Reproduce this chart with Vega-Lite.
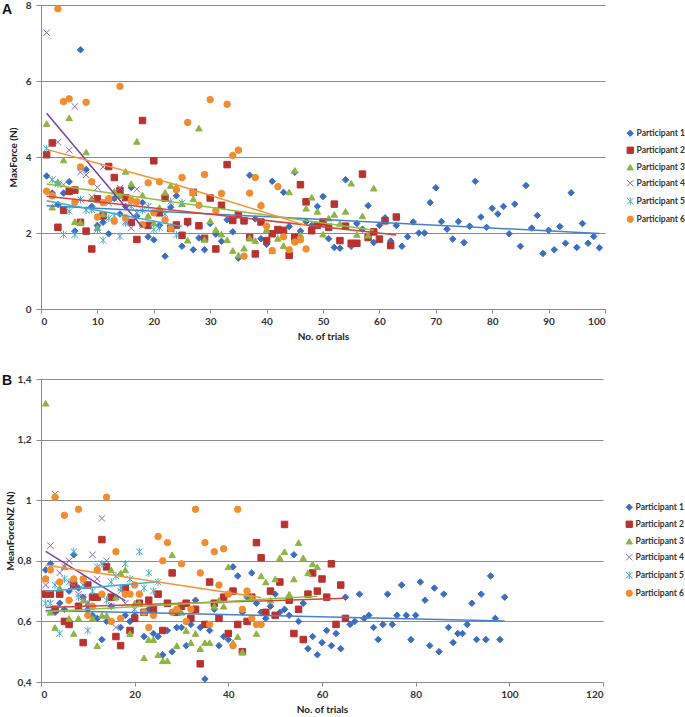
{
"$schema":"https://vega.github.io/schema/vega-lite/v6.json",
"padding":{"left":2,"top":0,"right":0,"bottom":0},
"columns":1,
"align":"none",
"spacing":33,
"datasets":{
"a":[
{"p":1,"t":1,"v":3.5},{"p":1,"t":2,"v":3.05},{"p":1,"t":3,"v":2.75},{"p":1,"t":4,"v":3.05},{"p":1,"t":5,"v":3.35},{"p":1,"t":6,"v":2.05},{"p":1,"t":7,"v":6.82},{"p":1,"t":8,"v":3.67},{"p":1,"t":9,"v":2.7},{"p":1,"t":10,"v":2.2},
{"p":1,"t":11,"v":2.28},{"p":1,"t":12,"v":1.98},{"p":1,"t":13,"v":2.91},{"p":1,"t":14,"v":2.5},{"p":1,"t":15,"v":2.7},{"p":1,"t":16,"v":3.2},{"p":1,"t":17,"v":2.45},{"p":1,"t":18,"v":2.8},{"p":1,"t":19,"v":1.9},{"p":1,"t":20,"v":1.82},
{"p":1,"t":21,"v":2.2},{"p":1,"t":22,"v":1.39},{"p":1,"t":23,"v":2.68},{"p":1,"t":24,"v":2.98},{"p":1,"t":25,"v":1.65},{"p":1,"t":26,"v":2.25},{"p":1,"t":27,"v":1.56},{"p":1,"t":28,"v":1.87},{"p":1,"t":29,"v":1.56},{"p":1,"t":30,"v":2.25},
{"p":1,"t":31,"v":1.97},{"p":1,"t":32,"v":1.78},{"p":1,"t":33,"v":2.35},{"p":1,"t":34,"v":2.03},{"p":1,"t":35,"v":1.34},{"p":1,"t":36,"v":2.32},{"p":1,"t":37,"v":3.52},{"p":1,"t":38,"v":2.37},{"p":1,"t":39,"v":1.85},{"p":1,"t":40,"v":1.7},
{"p":1,"t":41,"v":3.36},{"p":1,"t":42,"v":2.05},{"p":1,"t":43,"v":3.07},{"p":1,"t":44,"v":2.17},{"p":1,"t":45,"v":3.6},{"p":1,"t":46,"v":2.05},{"p":1,"t":47,"v":2.3},{"p":1,"t":48,"v":2.2},{"p":1,"t":49,"v":2.7},{"p":1,"t":50,"v":2.96},
{"p":1,"t":51,"v":1.85},{"p":1,"t":52,"v":1.62},{"p":1,"t":53,"v":1.6},{"p":1,"t":54,"v":3.4},{"p":1,"t":55,"v":1.65},{"p":1,"t":56,"v":2.25},{"p":1,"t":57,"v":2.1},{"p":1,"t":58,"v":2.72},{"p":1,"t":59,"v":1.75},{"p":1,"t":60,"v":2.2},
{"p":1,"t":61,"v":2.4},{"p":1,"t":62,"v":1.79},{"p":1,"t":63,"v":2.2},{"p":1,"t":64,"v":1.65},{"p":1,"t":65,"v":1.9},{"p":1,"t":66,"v":2.29},{"p":1,"t":67,"v":2.0},{"p":1,"t":68,"v":2.0},{"p":1,"t":69,"v":2.8},{"p":1,"t":70,"v":3.19},
{"p":1,"t":71,"v":2.3},{"p":1,"t":72,"v":2.1},{"p":1,"t":73,"v":1.84},{"p":1,"t":74,"v":2.3},{"p":1,"t":75,"v":1.75},{"p":1,"t":76,"v":2.18},{"p":1,"t":77,"v":3.36},{"p":1,"t":78,"v":2.42},{"p":1,"t":79,"v":2.15},{"p":1,"t":80,"v":2.65},
{"p":1,"t":81,"v":2.5},{"p":1,"t":82,"v":2.7},{"p":1,"t":83,"v":1.98},{"p":1,"t":84,"v":2.76},{"p":1,"t":85,"v":1.65},{"p":1,"t":86,"v":3.25},{"p":1,"t":87,"v":2.13},{"p":1,"t":88,"v":2.46},{"p":1,"t":89,"v":1.46},{"p":1,"t":90,"v":2.07},
{"p":1,"t":91,"v":1.56},{"p":1,"t":92,"v":2.17},{"p":1,"t":93,"v":1.73},{"p":1,"t":94,"v":3.06},{"p":1,"t":95,"v":1.62},{"p":1,"t":96,"v":2.25},{"p":1,"t":97,"v":1.73},{"p":1,"t":98,"v":1.91},{"p":1,"t":99,"v":1.61},
{"p":2,"t":1,"v":4.06},{"p":2,"t":2,"v":4.37},{"p":2,"t":3,"v":2.15},{"p":2,"t":4,"v":2.6},{"p":2,"t":5,"v":3.1},{"p":2,"t":6,"v":3.13},{"p":2,"t":7,"v":2.28},{"p":2,"t":8,"v":2.05},{"p":2,"t":9,"v":1.58},{"p":2,"t":10,"v":2.9},
{"p":2,"t":11,"v":2.45},{"p":2,"t":12,"v":3.75},{"p":2,"t":13,"v":3.46},{"p":2,"t":14,"v":3.12},{"p":2,"t":15,"v":2.93},{"p":2,"t":16,"v":2.28},{"p":2,"t":17,"v":1.83},{"p":2,"t":18,"v":4.96},{"p":2,"t":19,"v":2.2},{"p":2,"t":20,"v":3.9},
{"p":2,"t":21,"v":2.53},{"p":2,"t":22,"v":2.92},{"p":2,"t":23,"v":2.12},{"p":2,"t":24,"v":2.21},{"p":2,"t":25,"v":1.94},{"p":2,"t":26,"v":2.3},{"p":2,"t":27,"v":3.07},{"p":2,"t":28,"v":2.19},{"p":2,"t":29,"v":1.86},{"p":2,"t":30,"v":2.92},
{"p":2,"t":31,"v":1.58},{"p":2,"t":32,"v":2.73},{"p":2,"t":33,"v":3.8},{"p":2,"t":34,"v":2.33},{"p":2,"t":35,"v":2.48},{"p":2,"t":36,"v":2.32},{"p":2,"t":37,"v":1.88},{"p":2,"t":38,"v":1.45},{"p":2,"t":39,"v":2.29},{"p":2,"t":40,"v":1.8},
{"p":2,"t":41,"v":1.98},{"p":2,"t":42,"v":2.09},{"p":2,"t":43,"v":2.07},{"p":2,"t":44,"v":1.41},{"p":2,"t":45,"v":1.89},{"p":2,"t":46,"v":3.27},{"p":2,"t":47,"v":2.82},{"p":2,"t":48,"v":2.06},{"p":2,"t":49,"v":2.2},{"p":2,"t":50,"v":2.29},
{"p":2,"t":51,"v":2.15},{"p":2,"t":52,"v":2.76},{"p":2,"t":53,"v":1.8},{"p":2,"t":54,"v":2.18},{"p":2,"t":55,"v":1.73},{"p":2,"t":56,"v":1.73},{"p":2,"t":57,"v":3.55},{"p":2,"t":58,"v":1.88},{"p":2,"t":59,"v":2.03},{"p":2,"t":60,"v":1.84},
{"p":2,"t":61,"v":2.32},{"p":2,"t":62,"v":1.67},{"p":2,"t":63,"v":2.42},
{"p":3,"t":1,"v":4.88},{"p":3,"t":2,"v":2.68},{"p":3,"t":3,"v":3.35},{"p":3,"t":4,"v":3.92},{"p":3,"t":5,"v":5.03},{"p":3,"t":6,"v":2.3},{"p":3,"t":7,"v":2.28},{"p":3,"t":8,"v":4.13},{"p":3,"t":9,"v":2.9},{"p":3,"t":10,"v":2.14},
{"p":3,"t":11,"v":2.5},{"p":3,"t":12,"v":2.93},{"p":3,"t":13,"v":3.1},{"p":3,"t":14,"v":2.98},{"p":3,"t":15,"v":3.62},{"p":3,"t":16,"v":3.3},{"p":3,"t":17,"v":4.41},{"p":3,"t":18,"v":3.0},{"p":3,"t":19,"v":2.46},{"p":3,"t":20,"v":2.26},
{"p":3,"t":21,"v":2.67},{"p":3,"t":22,"v":3.07},{"p":3,"t":23,"v":3.25},{"p":3,"t":24,"v":3.23},{"p":3,"t":25,"v":2.77},{"p":3,"t":26,"v":1.81},{"p":3,"t":27,"v":2.9},{"p":3,"t":28,"v":4.76},{"p":3,"t":29,"v":1.83},{"p":3,"t":30,"v":2.32},
{"p":3,"t":31,"v":2.09},{"p":3,"t":32,"v":1.97},{"p":3,"t":33,"v":1.82},{"p":3,"t":34,"v":1.54},{"p":3,"t":35,"v":1.42},{"p":3,"t":36,"v":1.6},{"p":3,"t":37,"v":1.87},{"p":3,"t":38,"v":1.8},{"p":3,"t":39,"v":2.75},{"p":3,"t":40,"v":2.09},
{"p":3,"t":41,"v":1.53},{"p":3,"t":42,"v":1.86},{"p":3,"t":43,"v":1.67},{"p":3,"t":44,"v":3.08},{"p":3,"t":45,"v":3.65},{"p":3,"t":46,"v":1.95},{"p":3,"t":47,"v":2.65},{"p":3,"t":48,"v":2.94},{"p":3,"t":49,"v":2.57},{"p":3,"t":50,"v":1.97},
{"p":3,"t":51,"v":2.39},{"p":3,"t":52,"v":2.49},{"p":3,"t":53,"v":2.25},{"p":3,"t":54,"v":2.57},{"p":3,"t":55,"v":3.31},{"p":3,"t":56,"v":1.96},{"p":3,"t":57,"v":2.45},{"p":3,"t":58,"v":1.94},{"p":3,"t":59,"v":3.18},
{"p":4,"t":1,"v":7.27},{"p":4,"t":2,"v":3.4},{"p":4,"t":3,"v":4.39},{"p":4,"t":4,"v":3.27},{"p":4,"t":5,"v":4.18},{"p":4,"t":6,"v":5.33},{"p":4,"t":7,"v":3.6},{"p":4,"t":8,"v":3.53},{"p":4,"t":9,"v":2.95},{"p":4,"t":10,"v":3.2},
{"p":4,"t":11,"v":3.74},{"p":4,"t":12,"v":2.79},{"p":4,"t":13,"v":2.9},{"p":4,"t":14,"v":3.18},{"p":4,"t":15,"v":2.3},{"p":4,"t":16,"v":2.13},{"p":4,"t":17,"v":3.15},{"p":4,"t":18,"v":2.2},
{"p":5,"t":1,"v":4.22},{"p":5,"t":2,"v":3.4},{"p":5,"t":3,"v":3.29},{"p":5,"t":4,"v":1.96},{"p":5,"t":5,"v":2.57},{"p":5,"t":6,"v":1.96},{"p":5,"t":7,"v":2.88},{"p":5,"t":8,"v":2.6},{"p":5,"t":9,"v":2.61},{"p":5,"t":10,"v":2.09},
{"p":5,"t":11,"v":1.81},{"p":5,"t":12,"v":2.39},{"p":5,"t":13,"v":2.45},{"p":5,"t":14,"v":1.91},{"p":5,"t":15,"v":2.26},{"p":5,"t":16,"v":2.7},{"p":5,"t":17,"v":2.53},{"p":5,"t":18,"v":2.6},{"p":5,"t":19,"v":2.7},{"p":5,"t":20,"v":2.09},
{"p":5,"t":21,"v":2.14},{"p":5,"t":22,"v":2.5},{"p":5,"t":23,"v":2.83},{"p":5,"t":24,"v":1.95},{"p":5,"t":25,"v":2.79},
{"p":6,"t":1,"v":3.1},{"p":6,"t":2,"v":2.98},{"p":6,"t":3,"v":7.9},{"p":6,"t":4,"v":5.46},{"p":6,"t":5,"v":5.53},{"p":6,"t":6,"v":2.81},{"p":6,"t":7,"v":3.74},{"p":6,"t":8,"v":5.44},{"p":6,"t":9,"v":3.35},{"p":6,"t":10,"v":2.42},
{"p":6,"t":11,"v":2.8},{"p":6,"t":12,"v":2.9},{"p":6,"t":13,"v":2.31},{"p":6,"t":14,"v":5.86},{"p":6,"t":15,"v":2.4},{"p":6,"t":16,"v":2.86},{"p":6,"t":17,"v":2.82},{"p":6,"t":18,"v":2.22},{"p":6,"t":19,"v":3.32},{"p":6,"t":20,"v":2.53},
{"p":6,"t":21,"v":3.35},{"p":6,"t":22,"v":2.34},{"p":6,"t":23,"v":2.12},{"p":6,"t":24,"v":3.14},{"p":6,"t":25,"v":3.46},{"p":6,"t":26,"v":4.91},{"p":6,"t":27,"v":3.05},{"p":6,"t":28,"v":2.73},{"p":6,"t":29,"v":3.54},{"p":6,"t":30,"v":5.51},
{"p":6,"t":31,"v":2.59},{"p":6,"t":32,"v":3.04},{"p":6,"t":33,"v":5.39},{"p":6,"t":34,"v":4.04},{"p":6,"t":35,"v":4.18},{"p":6,"t":36,"v":1.39},{"p":6,"t":37,"v":3.05},{"p":6,"t":38,"v":3.46},{"p":6,"t":39,"v":2.72},{"p":6,"t":40,"v":2.18},
{"p":6,"t":41,"v":1.54},{"p":6,"t":42,"v":3.22},{"p":6,"t":43,"v":1.9},{"p":6,"t":44,"v":1.56},{"p":6,"t":45,"v":1.76},{"p":6,"t":46,"v":1.82},{"p":6,"t":47,"v":1.58}
],
"ta":[
{"p":1,"t":1,"v":2.72},{"p":1,"t":99,"v":1.99},
{"p":2,"t":1,"v":2.97},{"p":2,"t":63,"v":1.95},
{"p":3,"t":1,"v":3.29},{"p":3,"t":59,"v":2.07},
{"p":4,"t":1,"v":5.15},{"p":4,"t":18,"v":2.15},
{"p":5,"t":1,"v":2.85},{"p":5,"t":25,"v":2.17},
{"p":6,"t":1,"v":4.2},{"p":6,"t":24,"v":3.27},{"p":6,"t":47,"v":2.2}
],
"b":[
{"p":1,"t":1,"v":0.77},{"p":1,"t":2,"v":0.79},{"p":1,"t":3,"v":0.63},{"p":1,"t":4,"v":0.66},{"p":1,"t":5,"v":0.64},{"p":1,"t":6,"v":0.7},{"p":1,"t":7,"v":0.82},{"p":1,"t":8,"v":0.71},{"p":1,"t":9,"v":0.68},{"p":1,"t":10,"v":0.64},
{"p":1,"t":11,"v":0.62},{"p":1,"t":12,"v":0.61},{"p":1,"t":13,"v":0.54},{"p":1,"t":14,"v":0.6},{"p":1,"t":15,"v":0.65},{"p":1,"t":16,"v":0.68},{"p":1,"t":17,"v":0.58},{"p":1,"t":18,"v":0.62},{"p":1,"t":19,"v":0.6},{"p":1,"t":20,"v":0.62},
{"p":1,"t":21,"v":0.66},{"p":1,"t":22,"v":0.55},{"p":1,"t":23,"v":0.64},{"p":1,"t":24,"v":0.56},{"p":1,"t":25,"v":0.55},{"p":1,"t":26,"v":0.49},{"p":1,"t":27,"v":0.57},{"p":1,"t":28,"v":0.5},{"p":1,"t":29,"v":0.58},{"p":1,"t":30,"v":0.58},
{"p":1,"t":31,"v":0.52},{"p":1,"t":32,"v":0.59},{"p":1,"t":33,"v":0.67},{"p":1,"t":34,"v":0.58},{"p":1,"t":35,"v":0.41},{"p":1,"t":36,"v":0.57},{"p":1,"t":37,"v":0.64},{"p":1,"t":38,"v":0.52},{"p":1,"t":39,"v":0.55},{"p":1,"t":40,"v":0.54},
{"p":1,"t":41,"v":0.78},{"p":1,"t":42,"v":0.75},{"p":1,"t":43,"v":0.63},{"p":1,"t":44,"v":0.68},{"p":1,"t":45,"v":0.76},{"p":1,"t":46,"v":0.66},{"p":1,"t":47,"v":0.63},{"p":1,"t":48,"v":0.61},{"p":1,"t":49,"v":0.65},{"p":1,"t":50,"v":0.69},
{"p":1,"t":51,"v":0.63},{"p":1,"t":52,"v":0.64},{"p":1,"t":53,"v":0.62},{"p":1,"t":54,"v":0.82},{"p":1,"t":55,"v":0.6},{"p":1,"t":56,"v":0.66},{"p":1,"t":57,"v":0.51},{"p":1,"t":58,"v":0.55},{"p":1,"t":59,"v":0.49},{"p":1,"t":60,"v":0.53},
{"p":1,"t":61,"v":0.57},{"p":1,"t":62,"v":0.52},{"p":1,"t":63,"v":0.56},{"p":1,"t":64,"v":0.51},{"p":1,"t":65,"v":0.68},{"p":1,"t":66,"v":0.59},{"p":1,"t":67,"v":0.6},{"p":1,"t":68,"v":0.69},{"p":1,"t":69,"v":0.61},{"p":1,"t":70,"v":0.62},
{"p":1,"t":71,"v":0.58},{"p":1,"t":72,"v":0.54},{"p":1,"t":73,"v":0.59},{"p":1,"t":74,"v":0.69},{"p":1,"t":75,"v":0.59},{"p":1,"t":76,"v":0.62},{"p":1,"t":77,"v":0.72},{"p":1,"t":78,"v":0.62},{"p":1,"t":79,"v":0.54},{"p":1,"t":80,"v":0.62},
{"p":1,"t":81,"v":0.73},{"p":1,"t":82,"v":0.67},{"p":1,"t":83,"v":0.52},{"p":1,"t":84,"v":0.71},{"p":1,"t":85,"v":0.5},{"p":1,"t":86,"v":0.69},{"p":1,"t":87,"v":0.58},{"p":1,"t":88,"v":0.53},{"p":1,"t":89,"v":0.56},{"p":1,"t":90,"v":0.56},
{"p":1,"t":91,"v":0.59},{"p":1,"t":92,"v":0.66},{"p":1,"t":93,"v":0.54},{"p":1,"t":94,"v":0.69},{"p":1,"t":95,"v":0.54},{"p":1,"t":96,"v":0.75},{"p":1,"t":97,"v":0.61},{"p":1,"t":98,"v":0.54},{"p":1,"t":99,"v":0.68},
{"p":2,"t":1,"v":0.69},{"p":2,"t":2,"v":0.69},{"p":2,"t":3,"v":0.64},{"p":2,"t":4,"v":0.69},{"p":2,"t":5,"v":0.6},{"p":2,"t":6,"v":0.59},{"p":2,"t":7,"v":0.72},{"p":2,"t":8,"v":0.65},{"p":2,"t":9,"v":0.53},{"p":2,"t":10,"v":0.72},
{"p":2,"t":11,"v":0.68},{"p":2,"t":12,"v":0.68},{"p":2,"t":13,"v":0.87},{"p":2,"t":14,"v":0.78},{"p":2,"t":15,"v":0.68},{"p":2,"t":16,"v":0.55},{"p":2,"t":17,"v":0.52},{"p":2,"t":18,"v":0.71},{"p":2,"t":19,"v":0.57},{"p":2,"t":20,"v":0.61},
{"p":2,"t":21,"v":0.66},{"p":2,"t":22,"v":0.63},{"p":2,"t":23,"v":0.67},{"p":2,"t":24,"v":0.64},{"p":2,"t":25,"v":0.69},{"p":2,"t":26,"v":0.57},{"p":2,"t":27,"v":0.66},{"p":2,"t":28,"v":0.76},{"p":2,"t":29,"v":0.63},{"p":2,"t":30,"v":0.65},
{"p":2,"t":31,"v":0.66},{"p":2,"t":32,"v":0.61},{"p":2,"t":33,"v":0.64},{"p":2,"t":34,"v":0.46},{"p":2,"t":35,"v":0.59},{"p":2,"t":36,"v":0.73},{"p":2,"t":37,"v":0.66},{"p":2,"t":38,"v":0.61},{"p":2,"t":39,"v":0.68},{"p":2,"t":40,"v":0.56},
{"p":2,"t":41,"v":0.7},{"p":2,"t":42,"v":0.59},{"p":2,"t":43,"v":0.5},{"p":2,"t":44,"v":0.6},{"p":2,"t":45,"v":0.68},{"p":2,"t":46,"v":0.86},{"p":2,"t":47,"v":0.81},{"p":2,"t":48,"v":0.63},{"p":2,"t":49,"v":0.7},{"p":2,"t":50,"v":0.62},
{"p":2,"t":51,"v":0.73},{"p":2,"t":52,"v":0.92},{"p":2,"t":53,"v":0.67},{"p":2,"t":54,"v":0.56},{"p":2,"t":55,"v":0.64},{"p":2,"t":56,"v":0.54},{"p":2,"t":57,"v":0.69},{"p":2,"t":58,"v":0.76},{"p":2,"t":59,"v":0.7},{"p":2,"t":60,"v":0.74},
{"p":2,"t":61,"v":0.68},{"p":2,"t":62,"v":0.79},{"p":2,"t":63,"v":0.59},{"p":2,"t":64,"v":0.72},{"p":2,"t":65,"v":0.61},
{"p":3,"t":1,"v":1.32},{"p":3,"t":2,"v":0.63},{"p":3,"t":3,"v":0.58},{"p":3,"t":4,"v":0.71},{"p":3,"t":5,"v":0.78},{"p":3,"t":6,"v":0.61},{"p":3,"t":7,"v":0.56},{"p":3,"t":8,"v":0.61},{"p":3,"t":9,"v":0.67},{"p":3,"t":10,"v":0.66},
{"p":3,"t":11,"v":0.61},{"p":3,"t":12,"v":0.52},{"p":3,"t":13,"v":0.62},{"p":3,"t":14,"v":0.62},{"p":3,"t":15,"v":0.77},{"p":3,"t":16,"v":0.68},{"p":3,"t":17,"v":0.76},{"p":3,"t":18,"v":0.77},{"p":3,"t":19,"v":0.56},{"p":3,"t":20,"v":0.66},
{"p":3,"t":21,"v":0.66},{"p":3,"t":22,"v":0.48},{"p":3,"t":23,"v":0.54},{"p":3,"t":24,"v":0.54},{"p":3,"t":25,"v":0.49},{"p":3,"t":26,"v":0.47},{"p":3,"t":27,"v":0.47},{"p":3,"t":28,"v":0.82},{"p":3,"t":29,"v":0.52},{"p":3,"t":30,"v":0.63},
{"p":3,"t":31,"v":0.57},{"p":3,"t":32,"v":0.53},{"p":3,"t":33,"v":0.56},{"p":3,"t":34,"v":0.51},{"p":3,"t":35,"v":0.53},{"p":3,"t":36,"v":0.53},{"p":3,"t":37,"v":0.65},{"p":3,"t":38,"v":0.67},{"p":3,"t":39,"v":0.65},{"p":3,"t":40,"v":0.78},
{"p":3,"t":41,"v":0.53},{"p":3,"t":42,"v":0.55},{"p":3,"t":43,"v":0.5},{"p":3,"t":44,"v":0.69},{"p":3,"t":45,"v":0.68},{"p":3,"t":46,"v":0.56},{"p":3,"t":47,"v":0.75},{"p":3,"t":48,"v":0.73},{"p":3,"t":49,"v":0.67},{"p":3,"t":50,"v":0.74},
{"p":3,"t":51,"v":0.81},{"p":3,"t":52,"v":0.83},{"p":3,"t":53,"v":0.69},{"p":3,"t":54,"v":0.74},{"p":3,"t":55,"v":0.86},{"p":3,"t":56,"v":0.81},{"p":3,"t":57,"v":0.76},{"p":3,"t":58,"v":0.79},{"p":3,"t":59,"v":0.78},
{"p":4,"t":1,"v":0.72},{"p":4,"t":2,"v":0.85},{"p":4,"t":3,"v":1.02},{"p":4,"t":4,"v":0.76},{"p":4,"t":5,"v":0.78},{"p":4,"t":6,"v":0.8},{"p":4,"t":7,"v":0.72},{"p":4,"t":8,"v":0.69},{"p":4,"t":9,"v":0.68},{"p":4,"t":10,"v":0.66},
{"p":4,"t":11,"v":0.82},{"p":4,"t":12,"v":0.74},{"p":4,"t":13,"v":0.94},{"p":4,"t":14,"v":0.8},{"p":4,"t":15,"v":0.65},{"p":4,"t":16,"v":0.58},{"p":4,"t":17,"v":0.7},{"p":4,"t":18,"v":0.66},
{"p":5,"t":1,"v":0.66},{"p":5,"t":2,"v":0.66},{"p":5,"t":3,"v":0.72},{"p":5,"t":4,"v":0.56},{"p":5,"t":5,"v":0.74},{"p":5,"t":6,"v":0.73},{"p":5,"t":7,"v":0.83},{"p":5,"t":8,"v":0.68},{"p":5,"t":9,"v":0.72},{"p":5,"t":10,"v":0.57},
{"p":5,"t":11,"v":0.7},{"p":5,"t":12,"v":0.78},{"p":5,"t":13,"v":0.79},{"p":5,"t":14,"v":0.67},{"p":5,"t":15,"v":0.73},{"p":5,"t":16,"v":0.75},{"p":5,"t":17,"v":0.71},{"p":5,"t":18,"v":0.79},{"p":5,"t":19,"v":0.74},{"p":5,"t":20,"v":0.64},
{"p":5,"t":21,"v":0.83},{"p":5,"t":22,"v":0.71},{"p":5,"t":23,"v":0.76},{"p":5,"t":24,"v":0.7},{"p":5,"t":25,"v":0.73},
{"p":6,"t":1,"v":0.74},{"p":6,"t":2,"v":0.77},{"p":6,"t":3,"v":1.01},{"p":6,"t":4,"v":0.73},{"p":6,"t":5,"v":0.95},{"p":6,"t":6,"v":0.67},{"p":6,"t":7,"v":0.74},{"p":6,"t":8,"v":0.97},{"p":6,"t":9,"v":0.74},{"p":6,"t":10,"v":0.62},
{"p":6,"t":11,"v":0.65},{"p":6,"t":12,"v":0.77},{"p":6,"t":13,"v":0.69},{"p":6,"t":14,"v":1.01},{"p":6,"t":15,"v":0.6},{"p":6,"t":16,"v":0.83},{"p":6,"t":17,"v":0.61},{"p":6,"t":18,"v":0.69},{"p":6,"t":19,"v":0.69},{"p":6,"t":20,"v":0.72},
{"p":6,"t":21,"v":0.69},{"p":6,"t":22,"v":0.63},{"p":6,"t":23,"v":0.58},{"p":6,"t":24,"v":0.62},{"p":6,"t":25,"v":0.88},{"p":6,"t":26,"v":0.8},{"p":6,"t":27,"v":0.86},{"p":6,"t":28,"v":0.63},{"p":6,"t":29,"v":0.64},{"p":6,"t":30,"v":0.79},
{"p":6,"t":31,"v":0.6},{"p":6,"t":32,"v":0.64},{"p":6,"t":33,"v":0.97},{"p":6,"t":34,"v":0.76},{"p":6,"t":35,"v":0.86},{"p":6,"t":36,"v":0.59},{"p":6,"t":37,"v":0.83},{"p":6,"t":38,"v":0.72},{"p":6,"t":39,"v":0.84},{"p":6,"t":40,"v":0.69},
{"p":6,"t":41,"v":0.52},{"p":6,"t":42,"v":0.97},{"p":6,"t":43,"v":0.64},{"p":6,"t":44,"v":0.7},{"p":6,"t":45,"v":0.61},{"p":6,"t":46,"v":0.59},{"p":6,"t":47,"v":0.59}
],
"tb":[
{"p":1,"t":1,"v":0.636},{"p":1,"t":99,"v":0.601},
{"p":2,"t":1,"v":0.646},{"p":2,"t":65,"v":0.676},
{"p":3,"t":1,"v":0.632},{"p":3,"t":59,"v":0.683},
{"p":4,"t":1,"v":0.831},{"p":4,"t":18,"v":0.668},
{"p":5,"t":1,"v":0.699},{"p":5,"t":25,"v":0.731},
{"p":6,"t":1,"v":0.786},{"p":6,"t":47,"v":0.679}
]
},
"concat":[
{
"width":564,"height":304,
"title":{"text":"A","orient":"top","anchor":"start","frame":"group","offset":-17,"dx":-39,"fontSize":14,"font":"Liberation Sans","fontWeight":"bold","color":"#111"},
"layer":[
{"data":{"name":"a"},
"mark":{"type":"point","filled":true,"opacity":1,"strokeWidth":1,"size":42},
"encoding":{
"x":{"field":"t","type":"quantitative","scale":{"domain":[0,100],"nice":false},"axis":{"values":[0,10,20,30,40,50,60,70,80,90,100],"title":"No. of trials","grid":false}},
"y":{"field":"v","type":"quantitative","scale":{"domain":[0,8],"nice":false},"axis":{"values":[0,1,2,3,4,5,6,7,8],"title":"MaxForce (N)","grid":true,"titleX":-28,"titleBaseline":"middle"}},
"fill":{"field":"p","type":"nominal","scale":{"domain":[1,2,3,4,5,6],"range":["#3B6EC0","#B8332F","#8DB543","transparent","transparent","#F28C30"]},"legend":{"orient":"none","legendX":585,"legendY":124,"title":null,"labelExpr":"'Participant ' + datum.label"}},
"stroke":{"field":"p","type":"nominal","scale":{"domain":[1,2,3,4,5,6],"range":["#3B6EC0","#B8332F","#8DB543","#8A6AB0","#4BACC6","#F28C30"]},"legend":{"orient":"none","legendX":585,"legendY":124,"title":null,"labelExpr":"'Participant ' + datum.label"}},
"shape":{"field":"p","type":"nominal","scale":{"domain":[1,2,3,4,5,6],"range":["diamond","square","triangle-up","M-1,-1L1,1M-1,1L1,-1","M-1,-1L1,1M-1,1L1,-1M0,-1.2L0,1.2","circle"]},"legend":{"orient":"none","legendX":585,"legendY":124,"title":null,"labelExpr":"'Participant ' + datum.label"}}
}},
{"data":{"name":"ta"},
"mark":{"type":"line","strokeWidth":1.5},
"encoding":{
"x":{"field":"t","type":"quantitative"},
"y":{"field":"v","type":"quantitative"},
"color":{"field":"p","type":"nominal","scale":{"domain":[1,2,3,4,5,6],"range":["#4A7FCC","#D0463F","#90C040","#7A3FA8","#40ACD8","#F7922F"]},"legend":null}
}}
]
},
{
"width":562,"height":303,
"title":{"text":"B","orient":"top","anchor":"start","frame":"group","offset":-14,"dx":-39,"fontSize":14,"font":"Liberation Sans","fontWeight":"bold","color":"#111"},
"layer":[
{"data":{"name":"b"},
"mark":{"type":"point","filled":true,"opacity":1,"strokeWidth":1,"size":42},
"encoding":{
"x":{"field":"t","type":"quantitative","scale":{"domain":[0,120],"nice":false},"axis":{"values":[0,20,40,60,80,100,120],"title":"No. of trials","grid":false}},
"y":{"field":"v","type":"quantitative","scale":{"domain":[0.4,1.4],"nice":false,"zero":false},"axis":{"values":[0.4,0.5,0.6,0.7,0.8,0.9,1.0,1.1,1.2,1.3,1.4],"labelExpr":"replace(format(datum.value,'.1~f'),'.',',')","title":"MeanForceNZ (N)","grid":true,"titleX":-31,"titleBaseline":"middle"}},
"fill":{"field":"p","type":"nominal","scale":{"domain":[1,2,3,4,5,6],"range":["#3B6EC0","#B8332F","#8DB543","transparent","transparent","#F28C30"]},"legend":{"orient":"none","legendX":584,"legendY":124,"title":null,"labelExpr":"'Participant ' + datum.label"}},
"stroke":{"field":"p","type":"nominal","scale":{"domain":[1,2,3,4,5,6],"range":["#3B6EC0","#B8332F","#8DB543","#8A6AB0","#4BACC6","#F28C30"]},"legend":{"orient":"none","legendX":584,"legendY":124,"title":null,"labelExpr":"'Participant ' + datum.label"}},
"shape":{"field":"p","type":"nominal","scale":{"domain":[1,2,3,4,5,6],"range":["diamond","square","triangle-up","M-1,-1L1,1M-1,1L1,-1","M-1,-1L1,1M-1,1L1,-1M0,-1.2L0,1.2","circle"]},"legend":{"orient":"none","legendX":584,"legendY":124,"title":null,"labelExpr":"'Participant ' + datum.label"}}
}},
{"data":{"name":"tb"},
"mark":{"type":"line","strokeWidth":1.5},
"encoding":{
"x":{"field":"t","type":"quantitative"},
"y":{"field":"v","type":"quantitative"},
"color":{"field":"p","type":"nominal","scale":{"domain":[1,2,3,4,5,6],"range":["#4A7FCC","#D0463F","#90C040","#7A3FA8","#40ACD8","#F7922F"]},"legend":null}
}}
]
}
],
"resolve":{"scale":{"x":"independent","y":"independent","fill":"independent","stroke":"independent","shape":"independent","color":"independent"},"legend":{"fill":"independent","stroke":"independent","shape":"independent"}},
"config":{
"view":{"stroke":null},
"font":"Lato",
"axis":{"labelFont":"Lato","labelFontWeight":"bold","labelFontSize":10,"labelColor":"#333","titleFont":"Lato","titleFontWeight":"bold","titleFontSize":10,"titleColor":"#222","domainColor":"#8c8c8c","tickColor":"#8c8c8c","gridColor":"#8c8c8c","gridOpacity":1,"tickSize":5,"labelPadding":5,"titlePadding":4},
"axisX":{"labelPadding":3,"titlePadding":5,"tickSize":4},
"legend":{"labelFont":"Lato","labelFontSize":8.5,"labelFontWeight":"bold","labelColor":"#333","symbolSize":40,"rowPadding":6,"symbolStrokeWidth":1,"labelOffset":2}
}
}
